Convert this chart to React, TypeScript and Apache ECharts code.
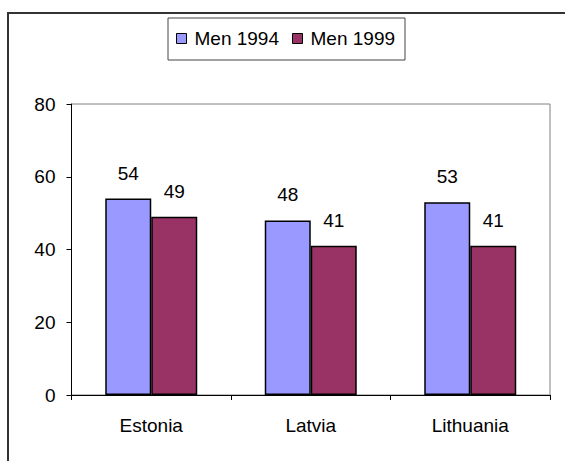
import React, { useEffect, useRef } from "react";
import * as echarts from "echarts";

const categories = ["Estonia", "Latvia", "Lithuania"];
const men1994 = [54, 48, 53];
const men1999 = [49, 41, 41];
const seriesNames = ["Men 1994", "Men 1999"];
const yTicks = { min: 0, max: 80, interval: 20 };

const FONT = "'Liberation Sans', Arial, sans-serif";
const FS = 19;

export default function App() {
  const ref = useRef<HTMLDivElement>(null);
  useEffect(() => {
    if (!ref.current) return;
    const chart = echarts.init(ref.current, null, { renderer: "svg" });
    const labelCfg = {
      show: true,
      position: "top",
      distance: 16,
      color: "#000",
      fontSize: FS,
      fontFamily: FONT,
    };
    chart.setOption({
      animation: false,
      backgroundColor: "#fff",
      textStyle: { fontFamily: FONT },
      graphic: [
        {
          type: "rect",
          shape: { x: 8, y: 13, width: 620, height: 520 },
          style: { fill: "none", stroke: "#333", lineWidth: 2 },
          silent: true,
          z: -1,
        },
      ],
      legend: {
        left: 168,
        top: 18,
        orient: "horizontal",
        borderColor: "#444",
        borderWidth: 1,
        padding: [11, 10, 12, 8],
        itemGap: 13,
        itemWidth: 10,
        itemHeight: 10,
        icon: "rect",
        itemStyle: { borderColor: "#000", borderWidth: 1 },
        textStyle: { fontSize: FS, color: "#000", fontFamily: FONT, padding: [0, 0, 0, 3] },
        data: seriesNames,
      },
      grid: {
        left: 71.5,
        top: 104,
        right: 15,
        bottom: 66,
        show: true,
        borderColor: "#808080",
        borderWidth: 1,
        backgroundColor: "#fff",
      },
      xAxis: {
        type: "category",
        data: categories,
        axisLine: { lineStyle: { color: "#000", width: 1 } },
        axisTick: { show: true, length: 5, lineStyle: { color: "#000" } },
        axisLabel: { color: "#000", fontSize: FS, fontFamily: FONT, margin: 21 },
      },
      yAxis: {
        type: "value",
        min: yTicks.min,
        max: yTicks.max,
        interval: yTicks.interval,
        axisLine: { show: true, lineStyle: { color: "#000", width: 1 } },
        axisTick: { show: true, length: 5, lineStyle: { color: "#000" } },
        splitLine: { show: false },
        axisLabel: { color: "#000", fontSize: FS, fontFamily: FONT, margin: 16 },
      },
      series: [
        {
          name: seriesNames[0],
          type: "bar",
          data: men1994,
          barWidth: 46,
          barGap: "0%",
          itemStyle: { color: "#9999FF", borderColor: "#000", borderWidth: 1.5 },
          label: labelCfg,
        },
        {
          name: seriesNames[1],
          type: "bar",
          data: men1999,
          barWidth: 46,
          barGap: "0%",
          itemStyle: { color: "#993366", borderColor: "#000", borderWidth: 1.5 },
          label: labelCfg,
        },
      ],
    });
    return () => chart.dispose();
  }, []);
  return (
    <div
      ref={ref}
      style={{ position: "fixed", left: 0, top: 0, width: 565, height: 461 }}
    />
  );
}
